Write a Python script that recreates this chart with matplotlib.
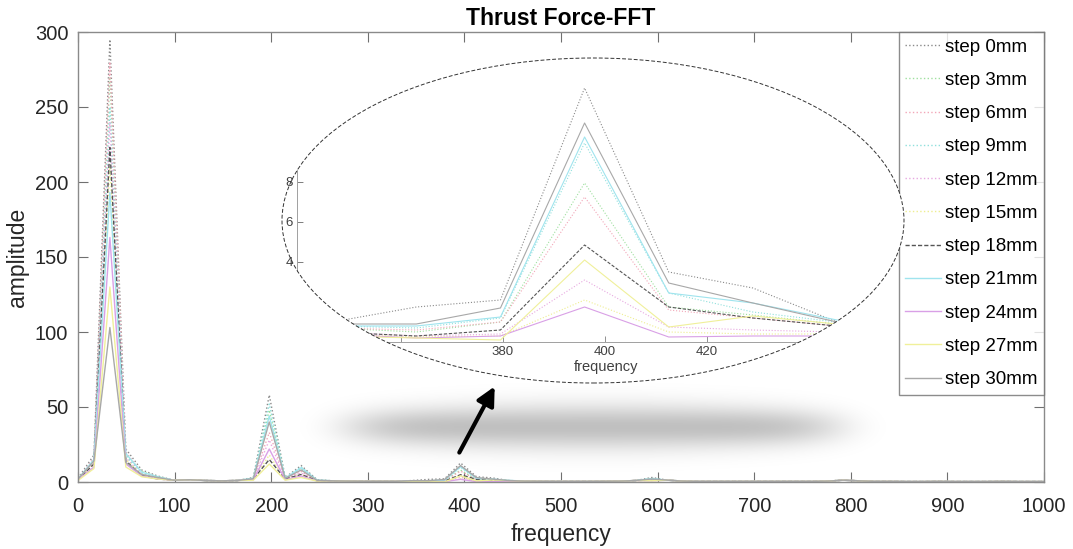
import numpy as np
import matplotlib
matplotlib.use('Agg')
import matplotlib.pyplot as plt
from matplotlib.patches import Ellipse, FancyArrowPatch

plt.rcParams['font.family'] = ['Liberation Sans', 'DejaVu Sans']

# FFT bins: 16.5 Hz resolution
df = 16.5
frequency = np.arange(62) * df

labels = ['step 0mm', 'step 3mm', 'step 6mm', 'step 9mm', 'step 12mm', 'step 15mm',
          'step 18mm', 'step 21mm', 'step 24mm', 'step 27mm', 'step 30mm']

# low-level floor shared by all series
baseline = [2.0, 12.0, 0.0, 12.0, 5.0, 3.0, 1.2, 1.5, 1.0, 0.8,
            1.0, 2.0, 0.0, 2.0, 6.0, 1.0, 0.8, 0.6, 0.5, 0.5,
            0.5, 0.6, 0.5, 0.8, 5.0, 1.5, 1.0, 0.8, 0.6, 0.5,
            0.4, 0.4, 0.4, 0.5, 0.6, 1.0, 2.0, 1.2, 0.6, 0.4,
            0.4, 0.4, 0.4, 0.4, 0.4, 0.4, 0.4, 0.6, 1.2, 0.8,
            0.4, 0.4, 0.3, 0.3, 0.4, 0.3, 0.3, 0.3, 0.4, 0.3,
            0.3, 0.3]

# bins read individually per series
key_bins = [0, 1, 2, 3, 4, 5, 11, 12, 13, 14, 15, 21, 22, 23, 24, 25, 26, 27, 36]
amp_0mm = [2.5, 18, 295, 22, 8, 4, 3, 58, 3, 11, 1.5, 1.0, 1.75, 2.1, 12.7, 3.5, 2.7, 1.0, 3.0]
amp_3mm = [2, 15, 270, 18, 7, 3.5, 2.5, 48, 2.5, 9, 1.2, 0.7, 0.5, 1.0, 7.95, 1.75, 1.35, 0.9, 2.0]
amp_6mm = [2, 16, 280, 20, 6, 3, 2, 33, 2, 7, 1.0, 0.7, 0.6, 1.0, 7.25, 1.6, 1.2, 0.8, 1.5]
amp_9mm = [2, 14, 250, 17, 6, 3, 2.5, 52, 3, 10, 1.3, 0.8, 0.7, 1.2, 9.95, 2.45, 1.5, 1.0, 2.5]
amp_12mm = [1.5, 13, 240, 16, 5, 2.5, 1.8, 28, 2, 6, 1.0, 0.5, 0.3, 0.4, 3.1, 0.75, 0.6, 0.5, 1.2]
amp_15mm = [1.5, 12, 210, 15, 5, 2.5, 1.5, 18, 1.5, 5, 0.8, 0.4, 0.25, 0.3, 2.1, 0.5, 0.4, 0.4, 1.0]
amp_18mm = [1.5, 12, 223, 14, 4.5, 2, 2, 15, 2, 5, 0.9, 0.5, 0.3, 0.6, 4.85, 1.75, 1.2, 0.8, 1.2]
amp_21mm = [2, 15, 193, 19, 6.5, 3.5, 2.5, 44, 2.5, 9.5, 1.2, 0.8, 0.8, 1.25, 10.25, 2.45, 1.95, 1.1, 2.2]
amp_24mm = [1.5, 10, 163, 12, 4, 2, 1.5, 22, 1.5, 4, 0.7, 0.4, 0.2, 0.3, 1.75, 0.25, 0.3, 0.3, 0.8]
amp_27mm = [1, 9, 130, 10, 3.5, 2, 1.2, 12, 1.2, 3, 0.6, 0.3, 0.2, 0.1, 4.1, 0.75, 1.3, 0.9, 0.8]
amp_30mm = [2, 14, 103, 13, 5, 3, 2.2, 40, 2.5, 8, 1.1, 0.9, 0.9, 1.7, 10.95, 2.95, 1.95, 1.0, 2.0]
key_amps = [amp_0mm, amp_3mm, amp_6mm, amp_9mm, amp_12mm, amp_15mm,
            amp_18mm, amp_21mm, amp_24mm, amp_27mm, amp_30mm]

colors = ['#8a8a8a', '#9fe09f', '#f2a7b8', '#8fe0dc', '#e7a8e0', '#eeee90',
          '#555555', '#9fe4ee', '#d9a0e6', '#f0f09a', '#a8a8a8']
styles = [':', ':', ':', ':', ':', ':', (0, (3, 1.5)), '-', '-', '-', '-']

series = []
for amps in key_amps:
    y = np.array(baseline, dtype=float)
    y[key_bins] = amps
    series.append(y)

W, H = 1073, 549
fig = plt.figure(figsize=(W / 100, H / 100), dpi=100)
ax = fig.add_axes([78 / W, 1 - 482 / H, (1044 - 78) / W, (482 - 32) / H])

for y, c, ls, lab in zip(series, colors, styles, labels):
    ax.plot(frequency, y, color=c, linestyle=ls, linewidth=1.0, label=lab)

ax.set_xlim(0, 1000)
ax.set_ylim(0, 300)
ax.set_xticks(np.arange(0, 1001, 100))
ax.set_yticks(np.arange(0, 301, 50))
ax.tick_params(direction='in', length=7, width=0.8, color='#707070',
               labelsize=14.5, labelcolor='#262626', top=True, right=True, pad=7)
ax.tick_params(axis='x', pad=11)
for s in ax.spines.values():
    s.set_color('#8a8a8a')
    s.set_linewidth(1.0)
ax.set_xlabel('frequency', fontsize=16.5, color='#262626', labelpad=5)
ax.set_ylabel('amplitude', fontsize=16.5, color='#262626', labelpad=4)
ax.set_title('Thrust Force-FFT', fontsize=16.5, fontweight='bold', pad=5)

leg = ax.legend(loc='upper right', fontsize=13.5, frameon=True, fancybox=False,
                borderaxespad=0.0, borderpad=0.35, labelspacing=0.86,
                handlelength=1.9, handletextpad=0.2)
leg.get_frame().set_edgecolor('#707070')
leg.get_frame().set_linewidth(1.0)

# blurred shadow below the zoom ellipse
sx0, sx1, sy0, sy1 = 290, 900, 370, 482
ax_sh = fig.add_axes([sx0 / W, 1 - sy1 / H, (sx1 - sx0) / W, (sy1 - sy0) / H])
gx, gy = np.meshgrid(np.arange(sx0, sx1), np.arange(sy0, sy1))
dx = (gx - 592) / 245.0
dy = (gy - 427) / 22.0
alpha = 0.25 * np.exp(-dx ** 8) * np.exp(-dy ** 2 * (1 + 0.6 * dx ** 2))
rgba = np.zeros(gx.shape + (4,))
rgba[..., 3] = alpha
ax_sh.imshow(rgba, aspect='auto', interpolation='bilinear')
ax_sh.axis('off')

# arrow to the zoom window
arrow = FancyArrowPatch((458 / W, 1 - 455 / H), (496 / W, 1 - 384 / H),
                        transform=fig.transFigure, arrowstyle='-|>,head_length=1.1,head_width=0.55',
                        mutation_scale=10, linewidth=3, color='black', zorder=5)
fig.patches.append(arrow)

# zoomed inset clipped by an ellipse
ell = Ellipse((593 / W, 1 - 220.5 / H), 622 / W, 325 / H, transform=fig.transFigure,
              facecolor='none', edgecolor='#333333', linewidth=0.7,
              linestyle=(0, (4, 2)), zorder=10)
axins = fig.add_axes([297 / W, 1 - 342 / H, 618 / W, 290 / H])
axins.set_facecolor('white')
for y, c, ls in zip(series, colors, styles):
    axins.plot(frequency, y, color=c, linestyle=ls, linewidth=0.8)
axins.set_xlim(339.6, 460.8)
axins.set_ylim(0, 14.5)
axins.set_xticks([360, 380, 400, 420, 440], labels=['', '380', '400', '420', ''])
axins.set_yticks([2, 4, 6, 8, 10, 12], labels=['', '4', '6', '8', '', ''])
axins.tick_params(direction='in', length=4, width=0.6, color='#808080',
                  labelsize=9.5, labelcolor='#404040', pad=3)
axins.set_xlabel('frequency', fontsize=10.5, color='#404040', labelpad=1)
for s in axins.spines.values():
    s.set_color('#a0a0a0')
    s.set_linewidth(0.7)
axins.spines['top'].set_visible(False)
axins.spines['right'].set_visible(False)

axins.patch.set_clip_path(ell)
for ln in axins.lines:
    ln.set_clip_path(ell)
for s in axins.spines.values():
    s.set_clip_path(ell)
for t in axins.xaxis.get_major_ticks() + axins.yaxis.get_major_ticks():
    t.tick1line.set_clip_path(ell)
    t.tick2line.set_clip_path(ell)
fig.patches.append(ell)

fig.savefig('out.png', dpi=100)
